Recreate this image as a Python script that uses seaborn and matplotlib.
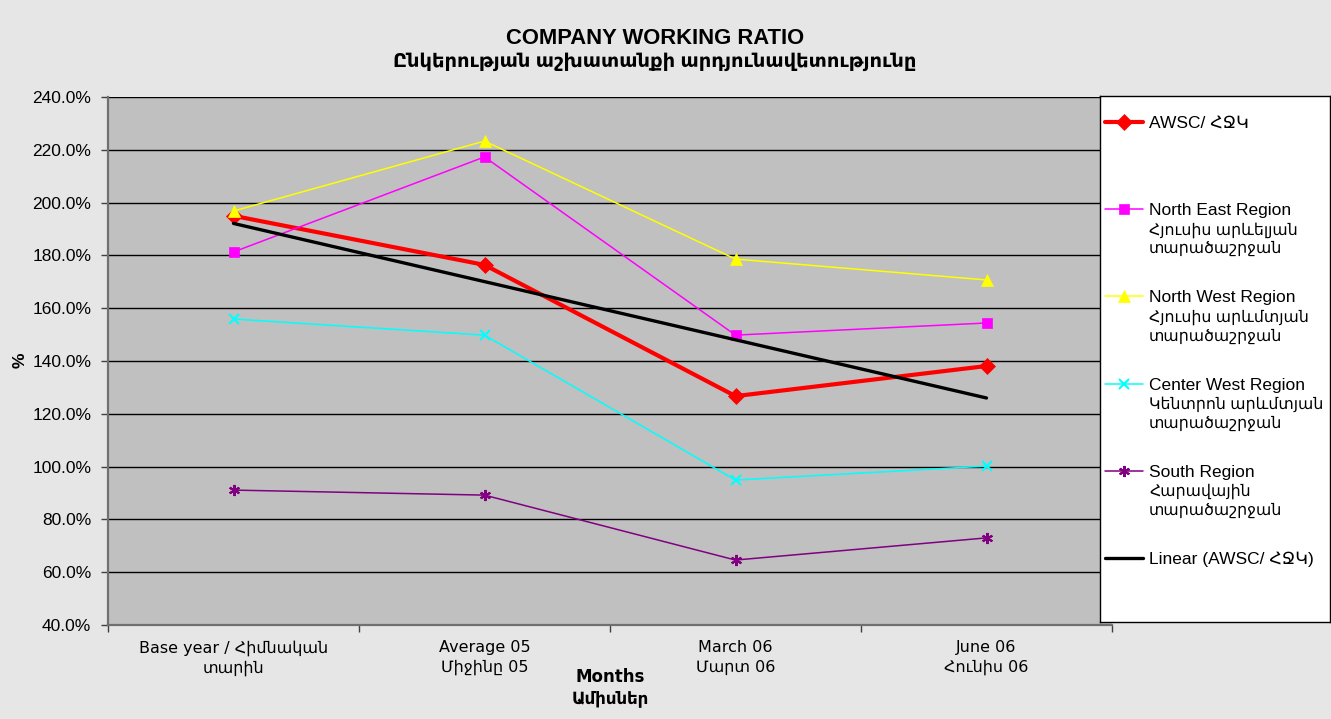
import numpy as np
import pandas as pd
import matplotlib
matplotlib.use("Agg")
import matplotlib.pyplot as plt
import seaborn as sns
from matplotlib.ticker import FixedLocator, FuncFormatter

# ---------------- data ----------------
categories = ["Base year / Հիմնական\nտարին", "Average 05\nՄիջինը 05",
              "March 06\nՄարտ 06", "June 06\nՀունիս 06"]
awsc = [195.0, 176.4, 126.7, 138.1]
north_east = [181.3, 217.3, 149.8, 154.4]
north_west = [196.8, 223.3, 178.6, 170.7]
center_west = [155.9, 149.8, 94.9, 100.2]
south = [91.1, 89.2, 64.6, 73.0]
series_labels = ["AWSC/ ՀՋԿ",
                 "North East Region\nՀյուսիս արևելյան\nտարածաշրջան",
                 "North West Region\nՀյուսիս արևմտյան\nտարածաշրջան",
                 "Center West Region\nԿենտրոն արևմտյան\nտարածաշրջան",
                 "South Region\nՀարավային\nտարածաշրջան",
                 "Linear (AWSC/ ՀՋԿ)"]
y_ticks = [40, 60, 80, 100, 120, 140, 160, 180, 200, 220, 240]
title_en = "COMPANY WORKING RATIO"
title_hy = "Ընկերության աշխատանքի արդյունավետությունը"
x_title = "Months\nԱմիսներ"
y_title = "%"

# ---------------- style ----------------
sns.set_theme(style="white")
plt.rcParams["font.family"] = ["Liberation Sans", "DejaVu Sans"]
for k in ["text.color", "axes.labelcolor", "xtick.color", "ytick.color"]:
    plt.rcParams[k] = "black"
narrow = ["Liberation Sans Narrow", "DejaVu Sans Condensed", "DejaVu Sans"]

W, H = 1331, 719
fig = plt.figure(figsize=(W / 100, H / 100), dpi=100, facecolor="#E6E6E6")
ax = fig.add_axes([108 / W, 94 / H, 1004 / W, 528 / H])
ax.set_facecolor("#C0C0C0")

styles = [
    dict(color="#FF0000", marker="D", markersize=8, linewidth=3.0, mew=0.5),
    dict(color="#FF00FF", marker="s", markersize=7, linewidth=1.1, mew=0.5),
    dict(color="#FFFF00", marker="^", markersize=8, linewidth=1.1, mew=0.5),
    dict(color="#00FFFF", marker="x", markersize=7, linewidth=1.1, mew=1.5),
    dict(color="#800080", marker=(6, 2, 0), markersize=8, linewidth=1.1, mew=1.5),
]
trend_style = dict(color="black", linewidth=2.4)

x = np.arange(len(categories))
all_series = [awsc, north_east, north_west, center_west, south]
for vals, st in zip(all_series, styles):
    sns.lineplot(x=x, y=vals, ax=ax, color=st["color"], marker=st["marker"],
                 markersize=st["markersize"], linewidth=st["linewidth"],
                 markeredgecolor=st["color"], markeredgewidth=st["mew"],
                 legend=False, zorder=3)
coef = np.polyfit(x, awsc, 1)
trend = np.polyval(coef, x)
sns.lineplot(x=x, y=trend, ax=ax, legend=False, zorder=4, **trend_style)

# axes
ax.set_xlim(-0.5, len(categories) - 0.5)
ax.set_ylim(y_ticks[0], y_ticks[-1])
ax.set_xticks(x)
ax.set_xticklabels(categories, fontsize=11.5, family=narrow, linespacing=1.35)
ax.xaxis.set_minor_locator(FixedLocator(np.arange(-0.5, len(categories), 1.0)))
ax.tick_params(axis="x", which="major", length=0, pad=11)
ax.tick_params(axis="x", which="minor", length=5, width=1, color="#404040",
               direction="out", bottom=True)
ax.set_yticks(y_ticks)
ax.yaxis.set_major_formatter(FuncFormatter(lambda v, p: f"{v:.1f}%"))
ax.tick_params(axis="y", length=5, width=1, color="#404040", pad=7,
               labelsize=12.5, direction="out", left=True)
ax.yaxis.grid(True, color="black", linewidth=1.0)
ax.xaxis.grid(False)
ax.set_axisbelow(True)
for s in ["top", "right"]:
    ax.spines[s].set_visible(False)
for s in ["left", "bottom"]:
    ax.spines[s].set_color("#707070")
    ax.spines[s].set_linewidth(1.6)
ax.set_xlabel("")
ax.set_ylabel("")

# titles
fig.text(655 / W, 1 - 38 / H, title_en, ha="center", va="center", fontsize=15.8,
         fontweight="bold")
fig.text(655 / W, 1 - 62 / H, title_hy, ha="center", va="center", fontsize=14,
         fontweight="bold")
fig.text(610 / W, 1 - 668 / H, x_title, ha="center", va="top", fontsize=12,
         fontweight="bold", family=narrow, linespacing=1.25)
fig.text(20 / W, 1 - 360 / H, y_title, ha="center", va="center", fontsize=12.5,
         fontweight="bold", rotation=90)

# legend box
lx0, ly0, lx1, ly1 = 1100, 96, 1330, 622
lax = fig.add_axes([lx0 / W, 1 - ly1 / H, (lx1 - lx0) / W, (ly1 - ly0) / H])
lax.set_xlim(0, lx1 - lx0)
lax.set_ylim(ly1 - ly0, 0)
lax.set_facecolor("white")
lax.set_xticks([])
lax.set_yticks([])
for s in lax.spines.values():
    s.set_color("black")
    s.set_linewidth(1.0)
handles = styles + [trend_style]
for i, (lab, st) in enumerate(zip(series_labels, handles)):
    yy = 26 + 87.2 * i
    lax.plot([5, 43], [yy, yy], color=st["color"], linewidth=st["linewidth"])
    if "marker" in st:
        lax.plot([24], [yy], color=st["color"], marker=st["marker"],
                 markersize=st["markersize"], markeredgecolor=st["color"],
                 markeredgewidth=st["mew"])
    for j, line in enumerate(lab.split("\n")):
        lax.text(49, yy + 6 + 19 * j, line, ha="left", va="baseline",
                 fontsize=12.5 if j == 0 else 11.3)

fig.savefig("out.png", dpi=100, facecolor=fig.get_facecolor())
